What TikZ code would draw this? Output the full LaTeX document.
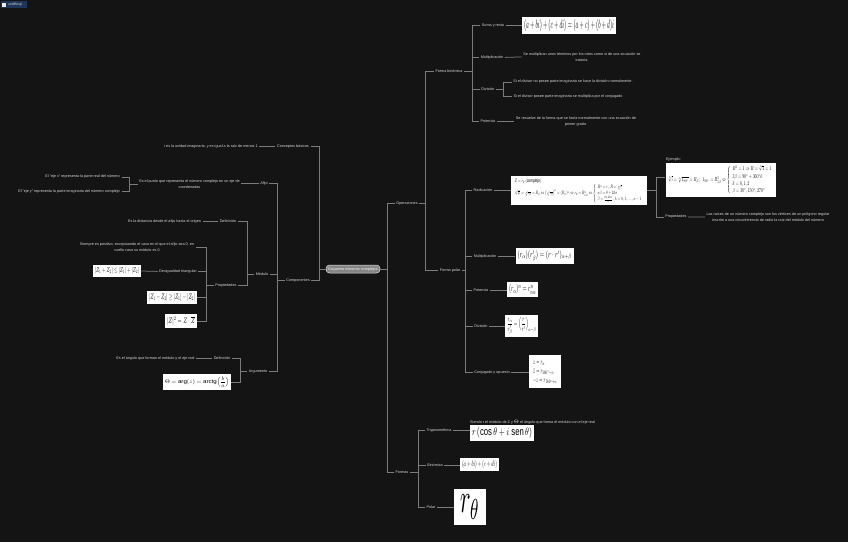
\documentclass[tikz,border=0pt]{standalone}
\usepackage{amsmath,amssymb}
\usepackage{graphicx}
\usepackage{fontspec}
\setmainfont{Liberation Sans}

\definecolor{canvas}{HTML}{141414}
\definecolor{wire}{HTML}{7C7C7C}
\definecolor{ink}{HTML}{D6D6D6}
\definecolor{pill}{HTML}{858585}
\definecolor{badge}{HTML}{1D3558}

\newcommand{\handw}[3]{\resizebox*{#1pt}{#2pt}{$#3$}}

\tikzset{
  topic/.style={text=ink, font=\fontsize{3.75}{5.6}\selectfont, align=center, inner sep=1.5pt, yshift=-0.4pt},
  sheet/.style={fill=white, text=black, inner xsep=2pt, inner ysep=2.4pt},
  link/.style={draw=wire, line width=0.75pt},
  elbow/.style={to path={-- (\tikztostart -| #1) |- (\tikztotarget)}}
}

\begin{document}
\begin{tikzpicture}[x=1pt, y=-1pt]
  \fill[canvas] (0,0) rectangle (848,542);
  \useasboundingbox (0,0) rectangle (848,542);

  \node[fill=badge, text=ink, font=\fontsize{3.4}{4}\selectfont, inner sep=1pt, minimum width=26pt, minimum height=7pt, text width=16pt, align=right] (tab) at (14,4.5) {unidBinql};
  \node[fill=ink!50, inner sep=0pt, minimum size=4pt] (tabIcon) at (4,4.5) {};

  \node[fill=pill, draw=ink!80, line width=0.5pt, rounded corners=3.5pt, text=white!90!pill, font=\fontsize{3.75}{4}\selectfont, inner sep=1pt, minimum width=54pt, minimum height=8pt] (root) at (353,269) {Esquema números complejos};

  % right side
  \node[topic] (oper) at (407,203) {Operaciones};
  \node[topic] (formas) at (402,472) {Formas};
  \node[topic] (bin) at (449,71) {Forma binómica};
  \node[topic] (polar) at (450,270) {Forma polar};

  \node[topic] (suma) at (493,25) {Suma y resta};
  \node[topic] (multb) at (492,57) {Multiplicación};
  \node[topic] (divb) at (488,89) {División};
  \node[topic] (potb) at (488,121) {Potencia};
  \node[sheet] (imgSuma) at (569,25.5) {\handw{90}{12}{(a+bi)+(c+di)=(a+c)+(b+d)i}};
  \node[topic] (multbT) at (582,56.5) {Se multiplican unos términos por los otros como si de una ecuación se\\trataría.};
  \node[topic] (divbA) at (573,81.5) {Si el divisor no posee parte imaginaria se hace la división normalmente.};
  \node[topic] (divbB) at (568,96) {Si el divisor posee parte imaginaria se multiplica por el conjugado};
  \node[topic] (potbT) at (576,121) {Se resuelve de la forma que se haría normalmente con una ecuación de\\primer grado.};

  \node[topic] (radic) at (483,190) {Radicación};
  \node[topic] (multp) at (485,256) {Multiplicación};
  \node[topic] (potp) at (481,290) {Potencia};
  \node[topic] (divp) at (481,326) {División};
  \node[topic] (conj) at (492,372) {Conjugado y opuesto};

  \node[sheet] (imgRadic) at (579,190.5) {\handw{132}{24.2}{\begin{array}{l}
      Z=r_\theta\ (\text{complejo})\\[1pt]
      \sqrt[n]{Z}=\sqrt[n]{r_\theta}=R_\beta\Leftrightarrow\bigl(\sqrt[n]{r_\theta}\bigr)^n=(R_\beta)^n\Leftrightarrow r_\theta=R^n_{n\beta}\Leftrightarrow
      \left\{\begin{array}{l}R^n=r,\ R=\sqrt[n]{r}\\ n\beta=\theta+2k\pi\\ \beta=\frac{\theta+2k\pi}{n},\ k=0,1,\dots,n-1\end{array}\right.
    \end{array}}};
  \node[sheet] (imgEj) at (721,180) {\handw{106}{29.2}{\sqrt[3]{i}=\sqrt[3]{1_{90^\circ}}=R_\beta\,;\ 1_{90^\circ}=R^3_{3\beta}\Leftrightarrow
      \left\{\begin{array}{l}R^3=1\Rightarrow R=\sqrt[3]{1}=1\\[2pt] 3\beta=90^\circ+360^\circ k\\ k=0,1,2\\ \beta=30^\circ,150^\circ,270^\circ\end{array}\right.}};
  \node[topic, anchor=west, inner sep=0pt] (ejLabel) at (666,159.5) {Ejemplo:};
  \coordinate (ejIn) at (665,177);
  \node[topic] (propR) at (676,216.5) {Propiedades};
  \node[topic] (propRT) at (768,216.7) {Las raíces de un número complejo son los vértices de un polígono regular\\inscrito a una circunferencia de radio la raíz del módulo del número};

  \node[sheet] (imgMult) at (544.5,256) {\handw{54}{10.5}{(r_\alpha)(r'_\beta)=(r\cdot r')_{\alpha+\beta}}};
  \node[sheet] (imgPot) at (522.5,289.5) {\handw{27}{9.5}{(r_\alpha)^n=r^n_{n\alpha}}};
  \node[sheet] (imgDiv) at (521.5,326) {\handw{29}{17}{\dfrac{r_\alpha}{r'_\beta}=\Bigl(\dfrac{r}{r'}\Bigr)_{\alpha-\beta}}};
  \node[sheet] (imgConj) at (545,371.5) {\handw{28}{28}{\begin{array}{l}z=r_\alpha\\ \bar z=r_{360^\circ-\alpha}\\ -z=r_{180^\circ+\alpha}\end{array}}};

  \node[topic] (trig) at (439,430) {Trigonométrica};
  \node[topic] (binf) at (435,465) {Binómica};
  \node[topic] (polf) at (431,507) {Polar};
  \node[sheet] (imgTrig) at (502,433) {\handw{60}{11}{r\,(\cos\theta+i\ \mathrm{sen}\,\theta)}};
  \node[topic, anchor=west, inner sep=0pt] (trigT) at (470,421.5) {Siendo r el módulo de Z y $\Theta$ el ángulo que forma el módulo con el eje real};
  \node[sheet] (imgBin) at (479.5,464.5) {\handw{35}{8}{(a+bi)+(c+di)}};
  \node[sheet, inner xsep=6pt, inner ysep=6pt] (imgPol) at (470,507) {\handw{20}{24}{r_\theta}};

  % left side
  \node[topic] (basic) at (293,146) {Conceptos básicos};
  \node[topic] (basicT) at (211,146) {i es la unidad imaginaria, y es igual a la raíz de menos 1};
  \node[topic] (comp) at (298,280) {Componentes};
  \node[topic] (afijo) at (264,183) {Afijo};
  \node[topic] (afijoT) at (189.5,184) {Es el punto que representa el número complejo en un eje de\\coordenadas};
  \node[topic, anchor=east] (ejeX) at (121.5,176.5) {El "eje x" representa la parte real del número};
  \node[topic, anchor=east] (ejeY) at (121.5,191) {El "eje y" representa la parte imaginaria del número complejo};
  \node[topic] (modulo) at (262,274) {Módulo};
  \node[topic] (argum) at (258,371) {Argumento};
  \node[topic] (defM) at (228,221) {Definición};
  \node[topic] (defMT) at (164.5,221) {Es la distancia desde el afijo hasta el origen};
  \node[topic] (propL) at (226,285) {Propiedades};
  \node[topic] (propA) at (137,247) {Siempre es positivo, exceptuando el caso en el que el afijo sea 0, en\\cuello caso su módulo es 0};
  \node[topic] (desig) at (178,271) {Desigualdad triangular};
  \node[sheet] (imgDes) at (117,271) {\handw{44}{7.2}{|Z_1+Z_2|\leq|Z_1|+|Z_2|}};
  \node[sheet] (imgDes2) at (172,297.5) {\handw{46}{8.2}{|Z_1-Z_2|\geq|Z_1|-|Z_2|}};
  \node[sheet] (imgConjM) at (181,321) {\handw{28}{9.2}{|Z|^2=Z\cdot\overline{Z}}};
  \node[topic] (defA) at (222,358) {Definición};
  \node[topic] (defAT) at (155.5,358) {Es el ángulo que forman el módulo y el eje real};
  \node[sheet] (imgArg) at (197,382) {\handw{64}{11.2}{\Theta=\arg(z)=\operatorname{arctg}\Bigl(\dfrac{b}{a}\Bigr)}};

  % vertical rails
  \coordinate (railOper) at (387,0);
  \coordinate (railBin) at (425,0);
  \coordinate (railSuma) at (472,0);
  \coordinate (railDiv) at (503,0);
  \coordinate (railPolar) at (465,0);
  \coordinate (railRadic) at (656,0);
  \coordinate (railForm) at (418,0);
  \coordinate (railComp) at (319,0);
  \coordinate (railMod) at (277,0);
  \coordinate (railEje) at (129,0);
  \coordinate (railDef) at (247,0);
  \coordinate (railProp) at (206,0);
  \coordinate (railArg) at (240,0);

  \path[link]
    (root.east) edge[elbow=railOper] (oper.west)
    (root.east) edge[elbow=railOper] (formas.west)
    (oper.east) edge[elbow=railBin] (bin.west)
    (oper.east) edge[elbow=railBin] (polar.west)
    (bin.east) edge[elbow=railSuma] (suma.west)
    (bin.east) edge[elbow=railSuma] (multb.west)
    (bin.east) edge[elbow=railSuma] (divb.west)
    (bin.east) edge[elbow=railSuma] (potb.west)
    (suma) edge (suma -| imgSuma.west)
    (multb.east) edge (multbT.west)
    (divb.east) edge[elbow=railDiv] (divbA.west)
    (divb.east) edge[elbow=railDiv] (divbB.west)
    (potb.east) edge (potbT.west)
    (polar.east) edge[elbow=railPolar] (radic.west)
    (polar.east) edge[elbow=railPolar] (multp.west)
    (polar.east) edge[elbow=railPolar] (potp.west)
    (polar.east) edge[elbow=railPolar] (divp.west)
    (polar.east) edge[elbow=railPolar] (conj.west)
    (radic) edge (radic -| imgRadic.west)
    (imgRadic.east) edge[elbow=railRadic] (ejIn)
    (imgRadic.east) edge[elbow=railRadic] (propR.west)
    (propR.east) edge (propRT.west)
    (multp) edge (multp -| imgMult.west)
    (potp) edge (potp -| imgPot.west)
    (divp) edge (divp -| imgDiv.west)
    (conj) edge (conj -| imgConj.west)
    (formas.east) edge[elbow=railForm] (trig.west)
    (formas.east) edge[elbow=railForm] (binf.west)
    (formas.east) edge[elbow=railForm] (polf.west)
    (trig) edge (trig -| imgTrig.west)
    (binf) edge (binf -| imgBin.west)
    (polf) edge (polf -| imgPol.west);

  \path[link]
    (root.west) edge[elbow=railComp] (basic.east)
    (root.west) edge[elbow=railComp] (comp.east)
    (basic.west) edge (basicT.east)
    (comp.west) edge[elbow=railMod] (afijo.east)
    (comp.west) edge[elbow=railMod] (modulo.east)
    (comp.west) edge[elbow=railMod] (argum.east)
    (afijo.west) edge (afijo -| afijoT.east)
    (afijoT.west) edge[elbow=railEje] (ejeX.east)
    (afijoT.west) edge[elbow=railEje] (ejeY.east)
    (modulo.west) edge[elbow=railDef] (defM.east)
    (modulo.west) edge[elbow=railDef] (propL.east)
    (defM.west) edge (defMT.east)
    (propL.west) edge[elbow=railProp] (propA.east)
    (propL.west) edge[elbow=railProp] (desig.east)
    (propL.west) edge[elbow=railProp] (imgDes2.east)
    (propL.west) edge[elbow=railProp] (imgConjM.east)
    (desig.west) edge (imgDes.east)
    (argum.west) edge[elbow=railArg] (defA.east)
    (argum.west) edge[elbow=railArg] (imgArg.east)
    (defA.west) edge (defAT.east);
\end{tikzpicture}
\end{document}
